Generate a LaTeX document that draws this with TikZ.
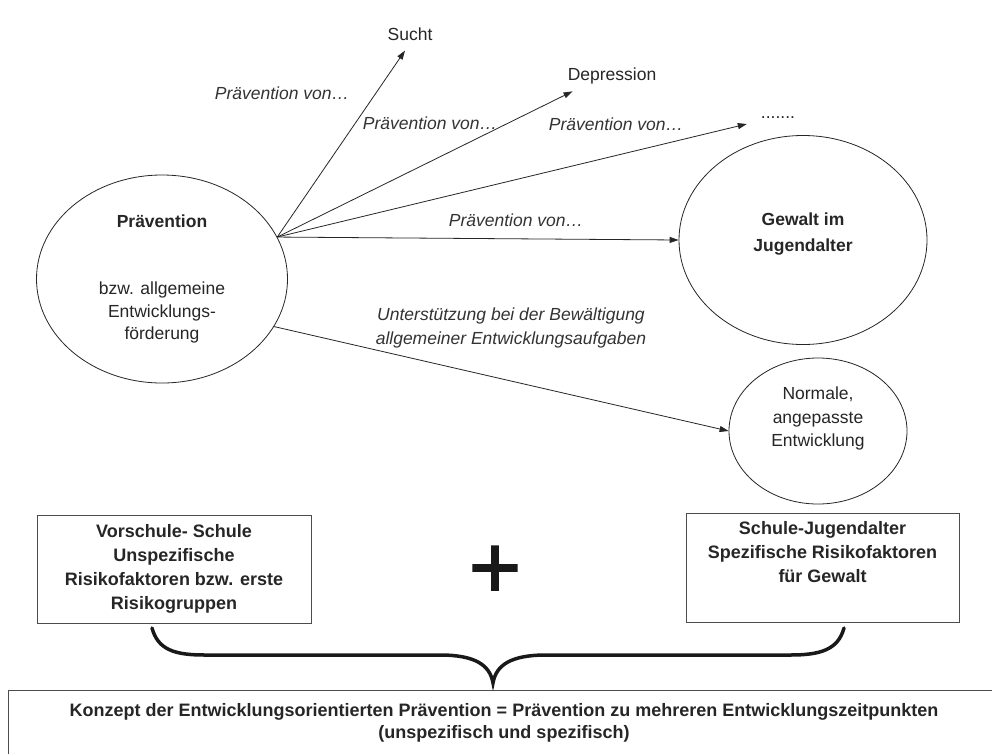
\documentclass[tikz,border=0pt]{standalone}
\usepackage{fontspec}
\setmainfont{Liberation Sans}
\newfontface\plusfont{Liberation Sans}[FakeBold=1.6]
\usetikzlibrary{arrows.meta,shapes.geometric}
\begin{document}
\begin{tikzpicture}[x=1pt,y=-1pt,
  ink/.style={draw=black!85},
  ell/.style={ellipse,ink,line width=0.8pt,inner sep=0pt},
  boxed/.style={rectangle,draw=black!70,line width=1pt,inner sep=0pt},
  txt/.style={font=\fontsize{17.5}{22.5}\selectfont,text=black!85,align=center,inner sep=0pt},
  btxt/.style={font=\fontsize{18}{24}\selectfont\bfseries,text=black!85,align=center,inner sep=0pt},
  itxt/.style={font=\fontsize{17.5}{24}\selectfont\itshape,text=black!80,align=center,inner sep=0pt},
  arr/.style={ink,line width=0.8pt,-{Triangle[length=9pt,width=6pt]}}
]
\useasboundingbox (0,0) rectangle (992,753);
\clip (0,0) rectangle (992,753);
\fill[white] (0,0) rectangle (992,753);

% ellipses
\node[ell,minimum width=251pt,minimum height=208pt,txt] (prev) at (162,279)
  {\textbf{Prävention}\\[44.6pt]bzw. allgemeine\\Entwicklungs-\\förderung};
\node[ell,minimum width=248pt,minimum height=209pt] (gewalt) at (803,240) {};
\node[btxt,font=\fontsize{17.5}{26}\selectfont\bfseries] (gewtxt) at (803,234) {Gewalt im\\Jugendalter};
\node[ell,minimum width=178pt,minimum height=146pt] (normal) at (818,431) {};
\node[txt,font=\fontsize{17.5}{23.5}\selectfont] (normtxt) at (818,418.5) {Normale,\\angepasste\\Entwicklung};

% targets
\node[txt] (sucht) at (410,34) {Sucht};
\node[txt] (depr) at (612,76) {Depression};
\node[txt] (dots) at (778,118) {.......};

% fan of arrows
\draw[arr] (prev.20) -- ([xshift=-5pt,yshift=-10pt]sucht.south);
\draw[arr] (prev.20) -- ([xshift=5pt,yshift=-7pt]depr.south west);
\draw[arr] (prev.20) -- ([xshift=-14pt,yshift=-6pt]dots.west);
\draw[arr] (prev.20) -- (gewalt.west);
\draw[arr] (prev.-23) -- (normal.west);

% labels
\node[itxt] (lab1) at (282,93) {Prävention von…};
\node[itxt] (lab2) at (430,123) {Prävention von…};
\node[itxt] (lab3) at (616,124) {Prävention von…};
\node[itxt] (lab4) at (516,220) {Prävention von…};
\node[itxt] (lab5) at (511,328) {Unterstützung bei der Bewältigung\\allgemeiner Entwicklungsaufgaben};

% boxes
\node[boxed,minimum width=274pt,minimum height=108pt,btxt] (lbox) at (174,569)
  {Vorschule- Schule\\Unspezifische\\Risikofaktoren bzw. erste\\Risikogruppen};
\node[boxed,minimum width=273pt,minimum height=109pt] (rbox) at (822.5,567.5) {};
\node[btxt] (rtxt) at (822.5,552) {Schule-Jugendalter\\Spezifische Risikofaktoren\\für Gewalt};

% plus
\node[inner sep=0pt,text=black!90,font=\plusfont\fontsize{90}{90}\selectfont] (plus) at (495,572) {+};

% brace
\draw[black!90,line width=3.5pt,line cap=round]
  (152,628) .. controls (158,650) and (175,655) .. (205,655) -- (440,655)
  .. controls (475,655) and (490,665) .. (493,683)
  .. controls (496,665) and (511,655) .. (546,655) -- (790,655)
  .. controls (820,655) and (838,650) .. (844,628);

% bottom box
\node[boxed,minimum width=992pt,minimum height=66pt,btxt,font=\fontsize{18}{22}\selectfont\bfseries] (concept) at (504,723)
  {Konzept der Entwicklungsorientierten Prävention = Prävention zu mehreren Entwicklungszeitpunkten\\(unspezifisch und spezifisch)};
\end{tikzpicture}
\end{document}
